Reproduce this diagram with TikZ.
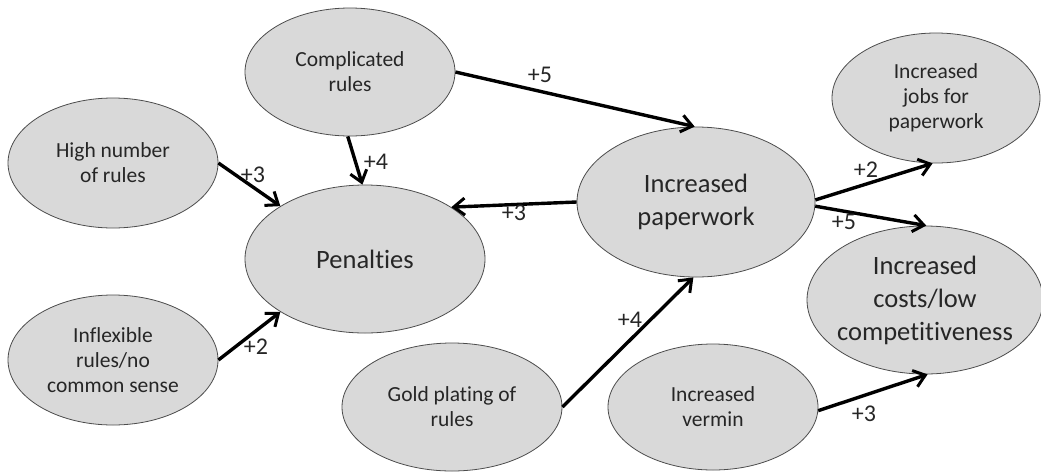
\documentclass[tikz,border=0pt]{standalone}
\usepackage{fontspec}
\setmainfont{Carlito}[Ligatures=CommonOff]
\usetikzlibrary{arrows.meta,shapes.geometric}
\begin{document}
\begin{tikzpicture}%
	[x={(1pt, 0pt)},
	y={(0pt, -1pt)},
	cause/.style={ellipse, draw=black!70, line width=0.8pt, fill=black!15, inner sep=0pt, align=center, text=black!85, font=\fontsize{21.5}{25}\selectfont, minimum width=210pt, minimum height=128pt},
	big/.style={font=\fontsize{26.5}{33}\selectfont},
	link/.style={line width=3.4pt, -{Straight Barb[length=11pt, width=17pt, line width=3pt]}},
	weight/.style={font=\fontsize{24}{26}\selectfont, text=black!85, inner sep=0pt}]
%
%% Frame of the page
%%
\useasboundingbox (0,0) rectangle (1041,472);
%%
%% Drawing the causes
%%
\node[cause] (cplx) at (350,72) {Complicated\\rules};
\node[cause, minimum height=130pt] (high) at (113,163) {High number\\of rules};
\node[cause, big, minimum width=240pt, minimum height=148pt] (pen) at (365,259) {Penalties};
\node[cause, minimum height=130pt] (infl) at (113,360) {Inflexible\\rules/no\\common sense};
\node[cause, minimum width=220pt] (gold) at (452,407) {Gold plating of\\rules};
\node[cause, big, minimum width=238pt, minimum height=150pt] (paper) at (696,202) {Increased\\paperwork};
\node[cause, minimum width=208pt, minimum height=130pt] (jobs) at (936,98) {Increased\\jobs for\\paperwork};
\node[cause, big, minimum width=236pt, minimum height=148pt, inner xsep=-10pt] (costs) at (925,300) {Increased\\costs/low\\competitiveness};
\node[cause, minimum height=126pt] (vermin) at (713,407) {Increased\\vermin};
%%
%% Drawing the links
%%
\draw[link] (cplx.268) -- (pen.92);
\draw[link] (high.0) -- (pen.148);
\draw[link] (infl.0) -- (pen.212);
\draw[link] (cplx.0) -- (paper.91);
\draw[link] (paper.180) -- (pen.31);
\draw[link] (gold.0) -- (paper.268);
\draw[link] (paper.1) -- (jobs.267);
\draw[link] (paper.-2) -- (costs.89);
\draw[link] (vermin.-2) -- (costs.272);
%%
%% Drawing the weights
%%
\node[weight] (w-cplx-pen) at (376,162) {+4};
\node[weight] (w-high-pen) at (253,175) {+3};
\node[weight] (w-infl-pen) at (256,347) {+2};
\node[weight] (w-cplx-paper) at (540,75) {+5};
\node[weight] (w-paper-pen) at (514,213) {+3};
\node[weight] (w-gold-paper) at (630,320) {+4};
\node[weight] (w-paper-jobs) at (866,170) {+2};
\node[weight] (w-paper-costs) at (844,222) {+5};
\node[weight] (w-vermin-costs) at (864,414) {+3};
%%
\end{tikzpicture}
\end{document}
